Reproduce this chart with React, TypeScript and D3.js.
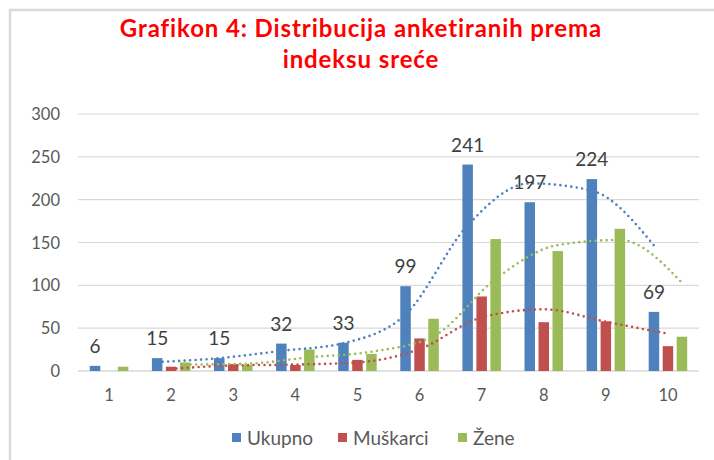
import React from 'react';
import * as d3 from 'd3';

const categories = ['1', '2', '3', '4', '5', '6', '7', '8', '9', '10'];
const ukupno = [6, 15, 15, 32, 33, 99, 241, 197, 224, 69];
const muskarci = [0, 5, 8, 7, 13, 38, 87, 57, 58, 29];
const zene = [5, 10, 7, 25, 20, 61, 154, 140, 166, 40];
const seriesNames = ['Ukupno', 'Muškarci', 'Žene'];
const colors = ['#4F81BD', '#C0504D', '#9BBB59'];
const yTicks = [0, 50, 100, 150, 200, 250, 300];

const W = 714;
const H = 460;
const font = 'Lato, "Open Sans", sans-serif';

// two-period moving average, as the spreadsheet trendline does
const movingAvg = (vals: number[]) =>
  vals.map((v, i) => (i === 0 ? null : (v + vals[i - 1]) / 2));

const App = () => {
  const series = [ukupno, muskarci, zene];

  const x0 = d3.scaleBand()
    .domain(categories)
    .range([78, 699])
    .paddingInner(0.38)
    .paddingOuter(0.19);

  const x1 = d3.scaleBand()
    .domain(seriesNames)
    .range([0, x0.bandwidth()])
    .paddingInner(0.25);

  const y = d3.scaleLinear().domain([0, 300]).range([371, 114]);

  const trend = d3.line<[number, number]>()
    .x(d => d[0])
    .y(d => d[1])
    .curve(d3.curveMonotoneX);

  const legendX = [232, 338, 458];

  return (
    <svg width={W} height={H} style={{ position: 'absolute', left: 0, top: 0, background: '#fff' }}>
      <path d={`M10,${H} V10 H${W}`} fill="none" stroke="#D9D9D9" strokeWidth={2.5} />

      <text x={361} y={37} textAnchor="middle" fill="#FF0000" fontFamily={font} fontWeight="bold"
        fontSize={24} letterSpacing={0.9}>
        Grafikon 4: Distribucija anketiranih prema
      </text>
      <text x={361} y={68} textAnchor="middle" fill="#FF0000" fontFamily={font} fontWeight="bold"
        fontSize={24} letterSpacing={0.9}>
        indeksu sreće
      </text>

      {yTicks.map(t => (
        <g key={t}>
          <line x1={78} x2={699} y1={y(t)} y2={y(t)} stroke="#D9D9D9" strokeWidth={t === 0 ? 1.5 : 1.2} />
          <text x={60} y={y(t) + 6} textAnchor="end" fill="#595959" fontFamily={font} fontSize={16.5}>
            {t}
          </text>
        </g>
      ))}

      {categories.map(c => (
        <text key={c} x={(x0(c) as number) + x0.bandwidth() / 2} y={401} textAnchor="middle"
          fill="#595959" fontFamily={font} fontSize={16.5}>
          {c}
        </text>
      ))}

      {series.map((vals, si) => (
        <g key={seriesNames[si]}>
          {vals.map((v, i) => (
            <rect key={i}
              x={(x0(categories[i]) as number) + (x1(seriesNames[si]) as number)}
              y={y(v)}
              width={x1.bandwidth()}
              height={y(0) - y(v)}
              fill={colors[si]} />
          ))}
        </g>
      ))}

      {series.map((vals, si) => {
        const pts = movingAvg(vals)
          .map((v, i) => (v === null ? null : [
            (x0(categories[i]) as number) + (x1(seriesNames[si]) as number) + x1.bandwidth() / 2,
            y(v),
          ]))
          .filter(p => p !== null) as [number, number][];
        return (
          <path key={'t' + si} d={trend(pts) || ''} fill="none" stroke={colors[si]}
            strokeWidth={2.6} strokeDasharray="0 5.5" strokeLinecap="round" />
        );
      })}

      {ukupno.map((v, i) => (
        <text key={'l' + i}
          x={(x0(categories[i]) as number) + (x1('Ukupno') as number) + x1.bandwidth() / 2}
          y={y(v) - 13} textAnchor="middle" fill="#404040" fontFamily={font} fontSize={19}>
          {v}
        </text>
      ))}

      {seriesNames.map((n, i) => (
        <g key={n}>
          <rect x={legendX[i]} y={433} width={9} height={9} fill={colors[i]} />
          <text x={legendX[i] + 15} y={445} fill="#595959" fontFamily={font} fontSize={19}>{n}</text>
        </g>
      ))}
    </svg>
  );
};

export default App;
